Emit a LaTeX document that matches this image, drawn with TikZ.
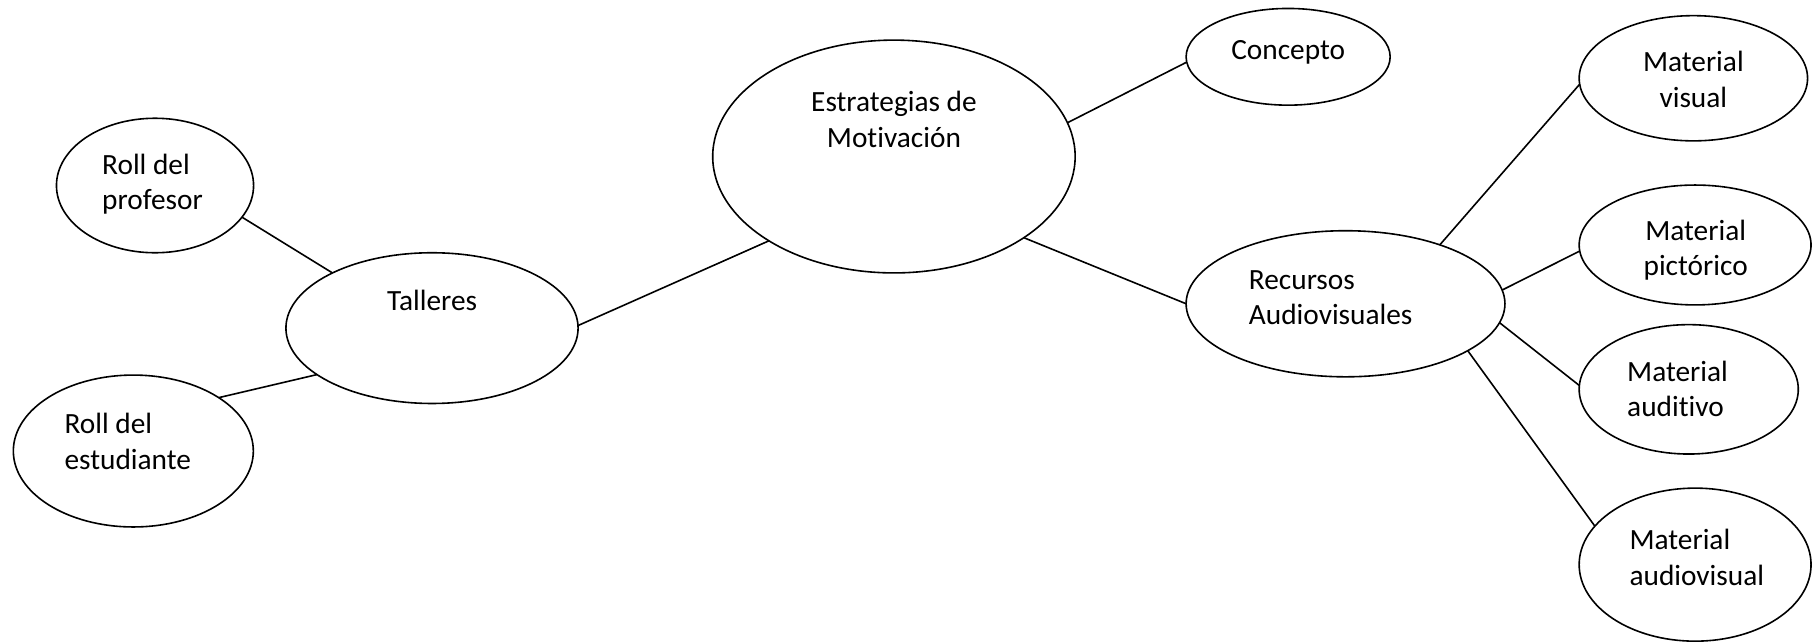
\documentclass[tikz,border=0pt]{standalone}
\usepackage{fontspec}
\setmainfont{Carlito}[Ligatures={NoCommon}]
\usetikzlibrary{shapes.geometric}
\begin{document}
\begin{tikzpicture}[x=0.4348pt,y=-0.4348pt,
  ov/.style 2 args={draw, ellipse, line width=0.6pt, inner sep=0pt, outer sep=0pt,
    minimum width=#1*0.8696pt, minimum height=#2*0.8696pt},
  lbl/.style={inner sep=0pt, font=\fontsize{11pt}{13.4pt}\selectfont},
  cn/.style={line width=0.6pt}]
\useasboundingbox (0,0) rectangle (1568,555);
% ellipses
\node[ov={156.3}{100.4}] (est) at (771,135) {};
\node[ov={88}{41.7}] (con) at (1111,49) {};
\node[ov={98.5}{54}] (vis) at (1460.5,67.5) {};
\node[ov={100}{51.7}] (pic) at (1462,211.3) {};
\node[ov={94.5}{55.8}] (aud) at (1456.5,335.8) {};
\node[ov={100}{66}] (av) at (1462,487) {};
\node[ov={137.5}{63}] (rec) at (1160.5,262) {};
\node[ov={126}{65}] (tal) at (372.6,283) {};
\node[ov={85}{58}] (pro) at (133.7,160) {};
\node[ov={103.5}{65.5}] (estu) at (115,389) {};
% texts (base = baseline of the last line)
\node[lbl, align=center, anchor=base] (estT) at (771,127) {Estrategias de\\Motivación};
\node[lbl, anchor=base west] (conT) at (1061.5,51.2) {Concepto};
\node[lbl, align=center, anchor=base] (visT) at (1460.5,92.6) {Material\\visual};
\node[lbl, align=center, anchor=base] (picT) at (1462.5,238) {Material\\pictórico};
\node[lbl, align=left, anchor=base west] (audT) at (1403,359.6) {Material\\auditivo};
\node[lbl, align=left, anchor=base west] (avT) at (1405,504.6) {Material\\audiovisual};
\node[lbl, align=left, anchor=base west] (recT) at (1076.7,280.3) {Recursos\\Audiovisuales};
\node[lbl, anchor=base west] (talT) at (333.4,268) {Talleres};
\node[lbl, align=left, anchor=base west] (proT) at (87.7,181) {Roll del\\profesor};
\node[lbl, align=left, anchor=base west] (estuT) at (55.2,404.6) {Roll del\\estudiante};
% connectors
\draw[cn] (pro.-20.7) -- (tal.151.9);
\draw[cn] (estu.32.4) -- (tal.202.7);
\draw[cn] (tal.1.6) -- (est.214.7);
\draw[cn] (est.11.9) -- (con.183.3);
\draw[cn] (est.-32.5) -- (rec.180.4);
\draw[cn] (rec.32.3) -- (vis.183.4);
\draw[cn] (rec.5) -- (pic.183.6);
\draw[cn] (rec.-7.6) -- (aud.178.6);
\draw[cn] (rec.-21.5) -- (av.159.6);
\end{tikzpicture}
\end{document}
